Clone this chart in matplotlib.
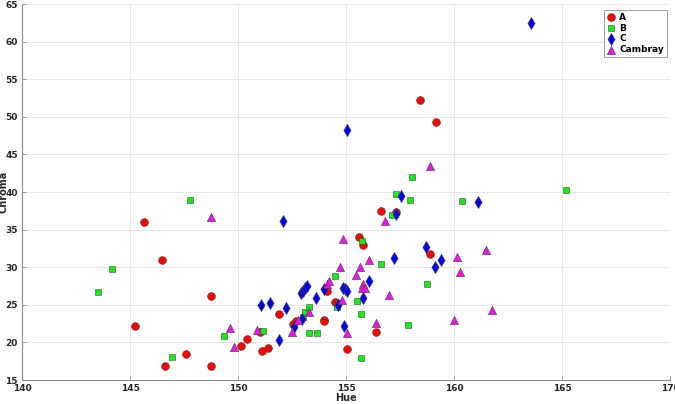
import matplotlib
matplotlib.use("Agg")
import matplotlib.pyplot as plt

# ── data ────────────────────────────────────────────────────────────
a_hue = [145.65, 146.48, 145.23, 146.6, 147.6, 148.75, 148.75, 150.14, 150.42,
         151.1, 151.4, 151.0, 151.9, 152.56, 152.7, 153.98, 153.98, 154.1,
         154.5, 154.6, 155.6, 155.8, 156.6, 157.3, 158.9, 156.37, 155.03,
         158.43, 159.17]
a_chroma = [36.0, 30.9, 22.2, 16.9, 18.5, 26.2, 16.9, 19.5, 20.5,
            18.9, 19.2, 21.4, 23.8, 22.4, 22.9, 23.0, 22.8, 26.8,
            25.4, 25.3, 34.0, 33.0, 37.5, 37.4, 31.7, 21.4, 19.1,
            52.3, 49.3]

b_hue = [143.5, 144.17, 146.94, 147.8, 149.35, 151.17, 153.0, 153.1, 153.3,
         153.3, 153.64, 154.5, 154.57, 155.5, 155.7, 155.7, 155.73, 156.6,
         157.14, 157.3, 157.96, 158.06, 158.76, 157.86, 160.37, 165.2]
b_chroma = [26.7, 29.8, 18.1, 38.9, 20.8, 21.5, 23.4, 24.0, 24.7,
            21.3, 21.2, 28.8, 24.7, 25.5, 23.75, 17.9, 33.5, 30.4,
            37.0, 39.7, 38.9, 42.0, 27.7, 22.3, 38.8, 40.2]

c_hue = [163.57, 155.05, 157.55, 161.1, 152.1, 151.06, 151.5, 152.2, 151.9,
         152.6, 152.95, 152.9, 153.0, 153.1, 153.2, 153.6, 153.98, 154.65,
         154.85, 154.95, 155.03, 155.8, 156.06, 157.2, 157.3, 158.7, 159.1,
         159.4, 154.9]
c_chroma = [62.5, 48.2, 39.5, 38.7, 36.1, 25.0, 25.3, 24.6, 20.3,
            22.0, 23.1, 26.6, 26.9, 27.2, 27.5, 25.85, 27.1, 25.0,
            27.3, 27.1, 26.9, 25.85, 28.1, 31.2, 37.1, 32.7, 30.0,
            31.0, 22.2]

cam_hue = [158.9, 148.75, 149.65, 149.8, 150.9, 152.5, 152.77, 153.3, 154.1,
           154.23, 154.7, 154.86, 154.8, 155.03, 155.45, 155.65, 156.06, 155.8,
           155.72, 155.88, 157.0, 156.37, 156.8, 160.12, 160.28, 160.0, 161.5,
           161.75]
cam_chroma = [43.5, 36.7, 21.9, 19.4, 21.6, 21.4, 23.0, 24.1, 27.75,
              28.1, 30.05, 33.8, 25.7, 21.2, 29.0, 30.0, 30.9, 27.8,
              27.3, 27.3, 26.25, 22.55, 36.1, 31.4, 29.4, 22.95, 32.3,
              24.3]

x_ticks = [140, 145, 150, 155, 160, 165, 170]
y_ticks = [15, 20, 25, 30, 35, 40, 45, 50, 55, 60, 65]

fig = plt.figure(figsize=(6.75, 4.04), dpi=100)
ax = fig.add_axes([22 / 675, 24 / 404, 648 / 675, 376 / 404])

edge = dict(edgecolors="#444444", linewidths=0.4)
ax.scatter(a_hue, a_chroma, marker="o", s=32, color="#FF0000", label="A", zorder=3, **edge)
ax.scatter(b_hue, b_chroma, marker="s", s=24, color="#11EE11", label="B", zorder=3, **edge)
ax.scatter(c_hue, c_chroma, marker="d", s=38, color="#0000EE", label="C", zorder=3, **edge)
ax.scatter(cam_hue, cam_chroma, marker="^", s=36, color="#EE11EE", label="Cambray", zorder=3, **edge)

ax.set_xlim(140, 170)
ax.set_ylim(15, 65)
ax.set_xticks(x_ticks)
ax.set_yticks(y_ticks)
ax.grid(True, color="#E6E6E6", linewidth=0.7)
ax.set_axisbelow(True)

for side in ["top", "right"]:
    ax.spines[side].set_visible(False)
for side in ["left", "bottom"]:
    ax.spines[side].set_color("#8C8C8C")
    ax.spines[side].set_linewidth(0.8)

ax.tick_params(direction="in", length=3, width=0.6, color="#8C8C8C",
               labelsize=6.5, labelcolor="#262626", pad=3)
for lbl in ax.get_xticklabels() + ax.get_yticklabels():
    lbl.set_fontweight("bold")

ax.set_xlabel("Hue", fontsize=7, fontweight="bold", color="#262626", labelpad=0)
ax.set_ylabel("Chroma", fontsize=7, fontweight="bold", color="#262626")
ax.yaxis.set_label_coords(-0.0215, 0.5)

leg = ax.legend(loc="upper right", bbox_to_anchor=(0.9985, 0.99),
                prop={"weight": "bold", "size": 6.5}, fancybox=False, framealpha=1,
                edgecolor="#8C8C8C", borderpad=0.35, labelspacing=0.2,
                handletextpad=0.4, handlelength=1.0, borderaxespad=0.2)
leg.get_frame().set_linewidth(0.6)

fig.savefig("out.png", dpi=100)
